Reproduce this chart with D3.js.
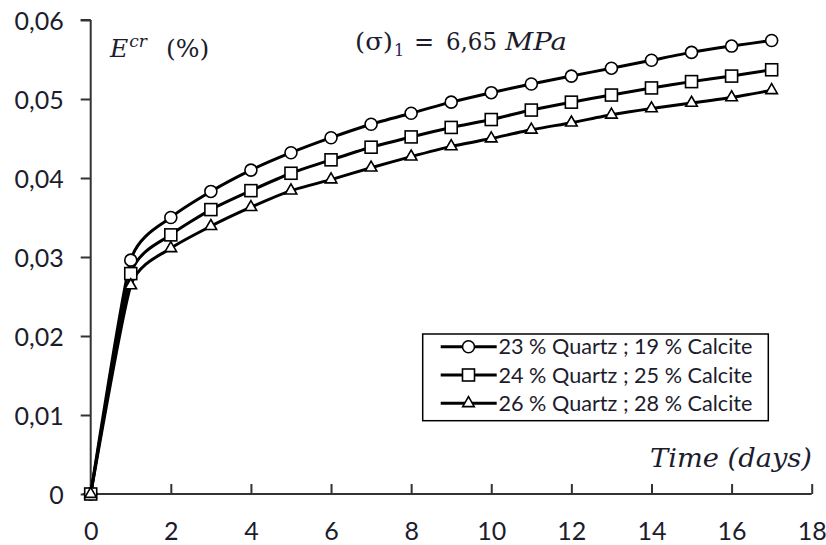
<!DOCTYPE html>
<html><head><meta charset="utf-8">
<script src="https://cdn.jsdelivr.net/npm/d3@7"></script>
<style>body{margin:0;background:#fff}svg{display:block}</style>
</head><body>
<svg id="chart" width="826" height="545"></svg>
<script>
const days = [0,1,2,3,4,5,6,7,8,9,10,11,12,13,14,15,16,17];
const quartz23 = [0,0.0296,0.0350,0.0383,0.0410,0.0432,0.0451,0.0468,0.0482,0.0496,0.0508,0.0519,0.0529,0.0539,0.0549,0.0559,0.0567,0.0574];
const quartz24 = [0,0.0279,0.0328,0.0360,0.0384,0.0406,0.0423,0.0439,0.0452,0.0464,0.0474,0.0486,0.0496,0.0505,0.0514,0.0522,0.0529,0.0537];
const quartz26 = [0,0.0264,0.0311,0.0339,0.0363,0.0384,0.0398,0.0413,0.0427,0.0440,0.0450,0.0461,0.0470,0.0480,0.0488,0.0495,0.0502,0.0511];
const seriesNames = ["23 % Quartz ; 19 % Calcite","24 % Quartz ; 25 % Calcite","26 % Quartz ; 28 % Calcite"];
const seriesMarkers = ["circle","square","triangle"];
const xTicks = [0,2,4,6,8,10,12,14,16,18];
const xTickLabels = ["0","2","4","6","8","10","12","14","16","18"];
const yTicks = [0,0.01,0.02,0.03,0.04,0.05,0.06];
const yTickLabels = ["0","0,01","0,02","0,03","0,04","0,05","0,06"];

const svg = d3.select("#chart");
const x = d3.scaleLinear().domain([0,18]).range([90.7,811.7]);
const y = d3.scaleLinear().domain([0,0.06]).range([494,20]);
const txt = "#1c1c2c";
const axisColor = "#333";

// Y axis
const yAxis = svg.append("g").attr("transform",`translate(${x(0)},0)`)
  .call(d3.axisLeft(y).tickValues(yTicks).tickSize(10).tickPadding(17)
    .tickFormat((d,i)=>yTickLabels[i]));
yAxis.select(".domain").attr("stroke",axisColor).attr("stroke-width",2).attr("d",`M0,${y(0.06)}H-10M0,${y(0.06)}V${y(0)}`);
yAxis.selectAll(".tick line").attr("stroke",axisColor).attr("stroke-width",2);
yAxis.selectAll("text").attr("font-family","Lato, sans-serif").attr("font-size",25).attr("fill",txt).attr("dy","0.36em");

// X axis
const xAxis = svg.append("g").attr("transform",`translate(0,${y(0)})`)
  .call(d3.axisBottom(x).tickValues(xTicks).tickSizeInner(-10).tickSizeOuter(0).tickPadding(0)
    .tickFormat((d,i)=>xTickLabels[i]));
xAxis.select(".domain").attr("stroke",axisColor).attr("stroke-width",2).attr("d",`M${x(0)-8},0H${x(18)}`);
xAxis.selectAll(".tick line").attr("stroke",axisColor).attr("stroke-width",2);
xAxis.selectAll(".tick").filter(d=>d===0).select("line").remove();
xAxis.selectAll("text").attr("font-family","Lato, sans-serif").attr("font-size",25).attr("fill",txt).attr("dy",null).attr("y",46);

// Lines
const allSeries = [quartz23, quartz24, quartz26];
const line = d3.line().x((d,i)=>x(days[i])).y(d=>y(d)).curve(d3.curveCardinal.tension(0.45));
allSeries.forEach(s=>{
  svg.append("path").attr("d",line(s)).attr("fill","none").attr("stroke","#000").attr("stroke-width",3);
});

function drawMarker(g, type, cx, cy){
  if(type==="circle"){
    g.append("circle").attr("cx",cx).attr("cy",cy).attr("r",6).attr("fill","#fff").attr("stroke","#000").attr("stroke-width",1.6);
  } else if(type==="square"){
    g.append("rect").attr("x",cx-6).attr("y",cy-6).attr("width",12).attr("height",12).attr("fill","#fff").attr("stroke","#000").attr("stroke-width",1.6);
  } else {
    g.append("path").attr("d",d3.symbol(d3.symbolTriangle,58)()).attr("transform",`translate(${cx},${cy})`)
      .attr("fill","#fff").attr("stroke","#000").attr("stroke-width",1.6);
  }
}
const mg = svg.append("g");
allSeries.forEach((s,k)=>{
  s.forEach((v,i)=>drawMarker(mg, seriesMarkers[k], x(days[i]), y(v)));
});

// Legend
const lg = svg.append("g");
lg.append("rect").attr("x",422.7).attr("y",334).attr("width",345.6).attr("height",86.7).attr("fill","#fff").attr("stroke","#000").attr("stroke-width",1.5);
seriesNames.forEach((n,k)=>{
  const ry = 346.7 + k*28.3;
  lg.append("line").attr("x1",440.7).attr("x2",496.7).attr("y1",ry).attr("y2",ry).attr("stroke","#000").attr("stroke-width",3);
  drawMarker(lg, seriesMarkers[k], 468.5, ry);
  lg.append("text").attr("x",498.5).attr("y",ry+7.5).attr("font-family","Lato, sans-serif").attr("font-size",21)
    .attr("fill",txt).attr("textLength",254).attr("lengthAdjust","spacingAndGlyphs").text(n);
});

// Annotations
const serif = "'DejaVu Serif', serif";
const e = svg.append("text").attr("x",110).attr("y",57).attr("font-family",serif).attr("font-size",25).attr("fill",txt);
e.append("tspan").attr("font-style","italic").text("E");
e.append("tspan").attr("font-style","italic").attr("font-size",17).attr("dy",-10).attr("dx",1).text("cr");
e.append("tspan").attr("x",166).attr("dy",10).text("(%)");

const t = svg.append("text").attr("y",50).attr("font-family",serif).attr("font-size",24).attr("fill",txt);
t.append("tspan").attr("x",355).attr("textLength",38).attr("lengthAdjust","spacingAndGlyphs").text("(σ)");
t.append("tspan").attr("x",394).attr("dy",6).attr("font-size",16).attr("fill","#2a1a5a").text("1");
t.append("tspan").attr("x",414).attr("dy",-6).text("=");
t.append("tspan").attr("x",446).attr("textLength",51).attr("lengthAdjust","spacingAndGlyphs").text("6,65");
t.append("tspan").attr("x",505).attr("font-style","italic").attr("textLength",62).attr("lengthAdjust","spacingAndGlyphs").text("MPa");

svg.append("text").attr("x",650).attr("y",466.7).attr("font-family",serif).attr("font-size",26).attr("font-style","italic")
  .attr("fill",txt).attr("textLength",162).attr("lengthAdjust","spacingAndGlyphs").text("Time (days)");
</script>
</body></html>
